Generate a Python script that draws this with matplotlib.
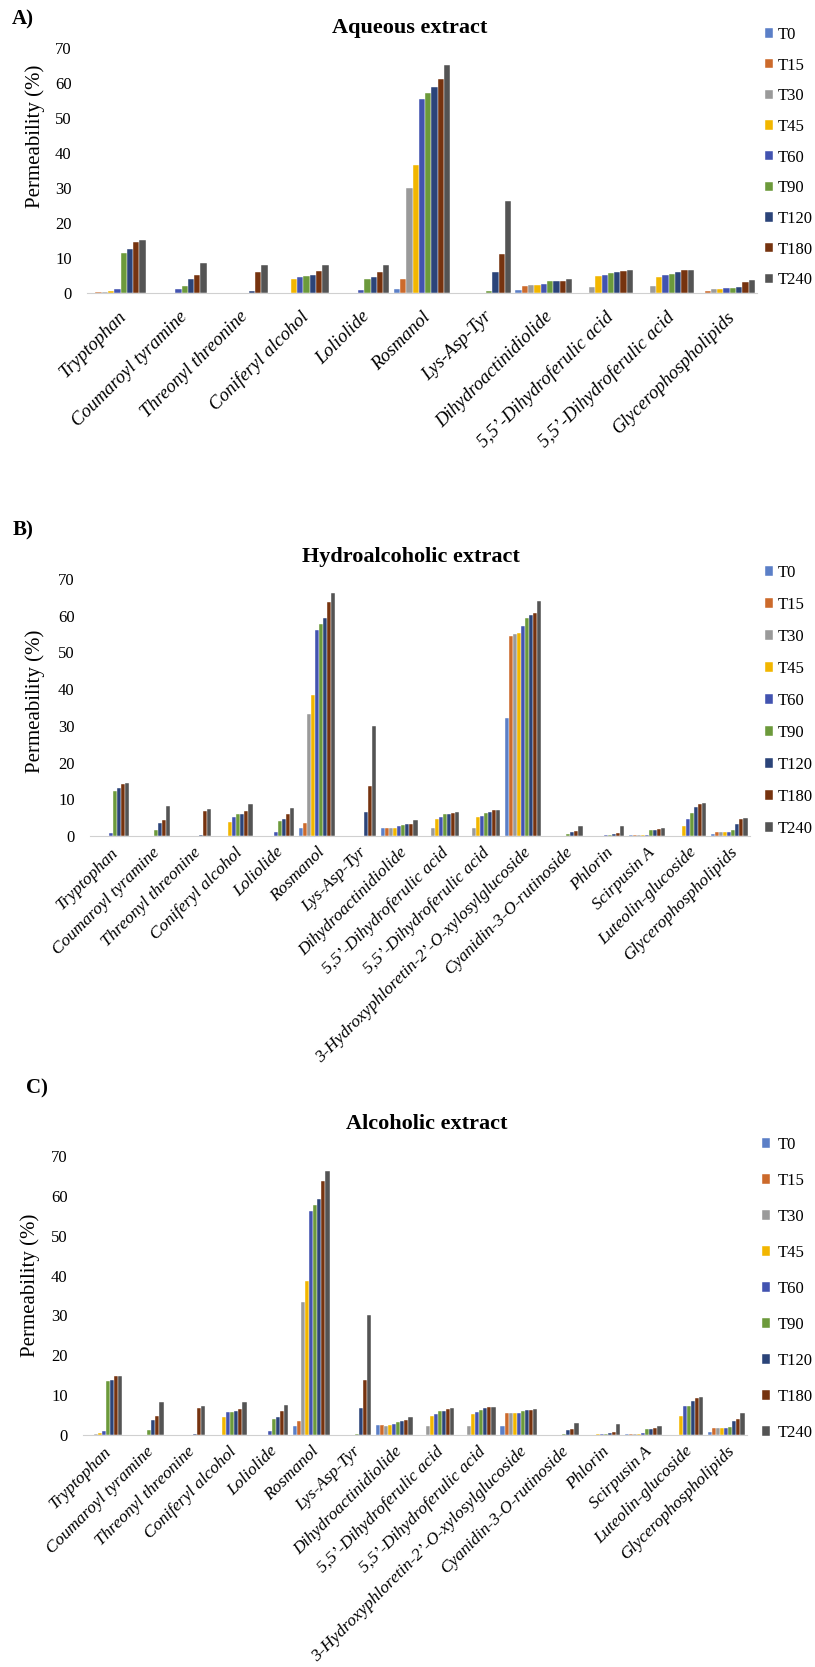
import matplotlib
matplotlib.use("Agg")
import matplotlib.pyplot as plt
import numpy as np

plt.rcParams['font.family'] = ['Liberation Serif', 'DejaVu Serif']

times = ['T0', 'T15', 'T30', 'T45', 'T60', 'T90', 'T120', 'T180', 'T240']
colors = ['#5B7FC7', '#CC6A2B', '#9A9A9A', '#F2B600', '#4253B0',
          '#6C9A3B', '#2B4479', '#76330F', '#545454']

# panel A - aqueous extract
cats_a = ['Tryptophan', 'Coumaroyl tyramine', 'Threonyl threonine', 'Coniferyl alcohol',
          'Loliolide', 'Rosmanol', 'Lys-Asp-Tyr', 'Dihydroactinidiolide',
          '5,5’-Dihydroferulic acid', '5,5’-Dihydroferulic acid', 'Glycerophospholipids']
vals_a = [
    [0.1, 0.2, 0.3, 0.5, 1.0, 11.5, 12.5, 14.7, 15.0],
    [0, 0, 0, 0, 1.0, 2.1, 4.1, 5.0, 8.5],
    [0, 0, 0, 0, 0, 0, 0.5, 6.0, 8.0],
    [0, 0, 0, 4.0, 4.6, 4.8, 5.1, 6.3, 8.1],
    [0, 0, 0, 0.1, 0.9, 4.0, 4.6, 5.9, 7.9],
    [1.0, 4.0, 30.1, 36.5, 55.4, 57.0, 58.9, 61.2, 65.1],
    [0, 0, 0, 0, 0, 0.7, 6.1, 11.2, 26.3],
    [0.9, 2.1, 2.4, 2.4, 2.6, 3.3, 3.4, 3.4, 4.1],
    [0, 0.1, 1.8, 4.9, 5.0, 5.8, 6.0, 6.3, 6.5],
    [0, 0.1, 1.9, 4.7, 5.0, 5.5, 6.1, 6.7, 6.7],
    [0, 0.5, 1.1, 1.1, 1.3, 1.3, 1.6, 3.0, 3.8],
]

# panels B and C share the compound list
cats_bc = ['Tryptophan', 'Coumaroyl tyramine', 'Threonyl threonine', 'Coniferyl alcohol',
           'Loliolide', 'Rosmanol', 'Lys-Asp-Tyr', 'Dihydroactinidiolide',
           '5,5’-Dihydroferulic acid', '5,5’-Dihydroferulic acid',
           '3-Hydroxyphloretin-2’-O-xylosylglucoside', 'Cyanidin-3-O-rutinoside',
           'Phlorin', 'Scirpusin A', 'Luteolin-glucoside', 'Glycerophospholipids']
vals_b = [
    [0, 0, 0, 0.1, 0.7, 12.3, 13.1, 14.1, 14.3],
    [0, 0, 0, 0, 0, 1.5, 3.5, 4.3, 8.1],
    [0, 0, 0, 0, 0, 0, 0.4, 6.9, 7.3],
    [0, 0, 0, 3.8, 5.1, 6.0, 6.1, 6.9, 8.6],
    [0, 0, 0, 0, 1.1, 4.0, 4.7, 6.1, 7.7],
    [2.1, 3.5, 33.2, 38.5, 56.1, 57.8, 59.3, 63.8, 66.1],
    [0, 0, 0, 0, 0, 0.1, 6.6, 13.6, 30.0],
    [2.1, 2.1, 2.1, 2.2, 2.6, 3.0, 3.2, 3.3, 4.3],
    [0, 0.1, 2.1, 4.7, 5.1, 6.0, 6.0, 6.4, 6.5],
    [0, 0.1, 2.1, 5.2, 5.5, 6.3, 6.6, 7.0, 7.1],
    [32.1, 54.5, 55.0, 55.3, 57.3, 59.4, 60.1, 60.7, 64.0],
    [0, 0, 0, 0, 0, 0.5, 1.0, 1.4, 2.8],
    [0, 0, 0, 0.1, 0.2, 0.3, 0.5, 0.8, 2.7],
    [0.3, 0.3, 0.3, 0.3, 0.3, 1.5, 1.6, 1.9, 2.2],
    [0, 0, 0, 2.6, 4.6, 6.2, 7.8, 8.8, 9.1],
    [0.5, 1.0, 1.0, 1.1, 1.2, 1.6, 3.4, 4.5, 5.0],
]
vals_c = [
    [0, 0, 0.2, 0.4, 0.9, 13.5, 13.8, 14.7, 14.7],
    [0, 0, 0, 0, 0, 1.3, 3.7, 4.7, 8.3],
    [0, 0, 0, 0, 0, 0, 0.3, 6.8, 7.2],
    [0, 0, 0, 4.4, 5.7, 5.8, 5.9, 6.5, 8.2],
    [0, 0, 0, 0, 1.0, 3.9, 4.6, 6.0, 7.6],
    [2.3, 3.5, 33.3, 38.6, 56.1, 57.7, 59.2, 63.7, 66.2],
    [0, 0, 0, 0, 0, 0.2, 6.7, 13.7, 30.2],
    [2.4, 2.4, 2.3, 2.4, 2.7, 3.2, 3.5, 3.7, 4.4],
    [0, 0.1, 2.2, 4.8, 5.2, 6.0, 6.0, 6.4, 6.7],
    [0, 0.1, 2.2, 5.3, 5.7, 6.3, 6.8, 7.0, 7.0],
    [2.2, 5.5, 5.5, 5.5, 5.6, 5.9, 6.2, 6.2, 6.5],
    [0, 0, 0, 0, 0, 0.3, 1.2, 1.5, 3.0],
    [0, 0, 0, 0.2, 0.3, 0.3, 0.4, 0.8, 2.8],
    [0.3, 0.3, 0.3, 0.3, 0.4, 1.6, 1.6, 1.8, 2.2],
    [0, 0, 0, 4.7, 7.2, 7.3, 8.6, 9.2, 9.6],
    [0.7, 1.7, 1.7, 1.7, 1.7, 2.0, 3.4, 4.1, 5.4],
]

W, H = 815, 1667
fig = plt.figure(figsize=(W / 100, H / 100), dpi=100)


def px_axes(left, right, top, bottom):
    # pixel box -> figure fraction
    return fig.add_axes([left / W, 1 - bottom / H, (right - left) / W, (bottom - top) / H])


def draw_panel(ax, cats, vals, group_w, xfont, xpad, ylab_xy, leg_xy, leg_space, leg_pad):
    data = np.array(vals)
    n = len(times)
    x = np.arange(len(cats))
    bw = group_w / n
    for i, t in enumerate(times):
        ax.bar(x - group_w / 2 + bw * (i + 0.5), data[:, i], bw, color=colors[i],
               edgecolor='white', linewidth=0.3, label=t)
    ax.set_xlim(-0.5, len(cats) - 0.5)
    ax.set_ylim(0, 70)
    ax.set_yticks(range(0, 71, 10))
    ax.set_xticks(x)
    ax.set_xticklabels(cats, rotation=45, ha='right', va='top', rotation_mode='anchor',
                       fontstyle='italic', fontsize=xfont)
    ax.tick_params(axis='both', length=0)
    ax.tick_params(axis='y', labelsize=12, pad=11)
    ax.tick_params(axis='x', pad=xpad)
    for s in ['top', 'right', 'left']:
        ax.spines[s].set_visible(False)
    ax.spines['bottom'].set_color('#d0d0d0')
    ax.set_ylabel('Permeability (%)', fontsize=15)
    ax.yaxis.set_label_coords(*ylab_xy)
    ax.legend(loc='upper left', bbox_to_anchor=(leg_xy[0] / W, 1 - leg_xy[1] / H),
              bbox_transform=fig.transFigure, frameon=False, fontsize=12,
              handlelength=0.5, handleheight=0.5, handletextpad=leg_pad,
              labelspacing=leg_space, borderpad=0, borderaxespad=0)


ax_a = px_axes(87, 757, 48, 293)
draw_panel(ax_a, cats_a, vals_a, 0.93, 13.5, 11, (-0.063, 0.64), (765, 27), 0.88, 0.25)
fig.text(12 / W, 1 - 19 / H, 'A)', fontsize=15, fontweight='bold', va='center')
fig.text(410 / W, 1 - 28 / H, 'Aqueous extract', fontsize=16, fontweight='bold',
         ha='center', va='center')

ax_b = px_axes(90, 750, 579, 836)
draw_panel(ax_b, cats_bc, vals_b, 0.88, 12.5, 6, (-0.068, 0.525), (765, 565), 0.96, 0.25)
fig.text(13 / W, 1 - 530 / H, 'B)', fontsize=15, fontweight='bold', va='center')
fig.text(411 / W, 1 - 557 / H, 'Hydroalcoholic extract', fontsize=16, fontweight='bold',
         ha='center', va='center')

ax_c = px_axes(83, 747, 1156, 1435)
draw_panel(ax_c, cats_bc, vals_c, 0.88, 12.5, 6, (-0.065, 0.538), (762, 1137), 1.2, 0.45)
fig.text(26 / W, 1 - 1088 / H, 'C)', fontsize=15, fontweight='bold', va='center')
fig.text(427 / W, 1 - 1124 / H, 'Alcoholic extract', fontsize=16, fontweight='bold',
         ha='center', va='center')

fig.savefig('out.png', dpi=100)
